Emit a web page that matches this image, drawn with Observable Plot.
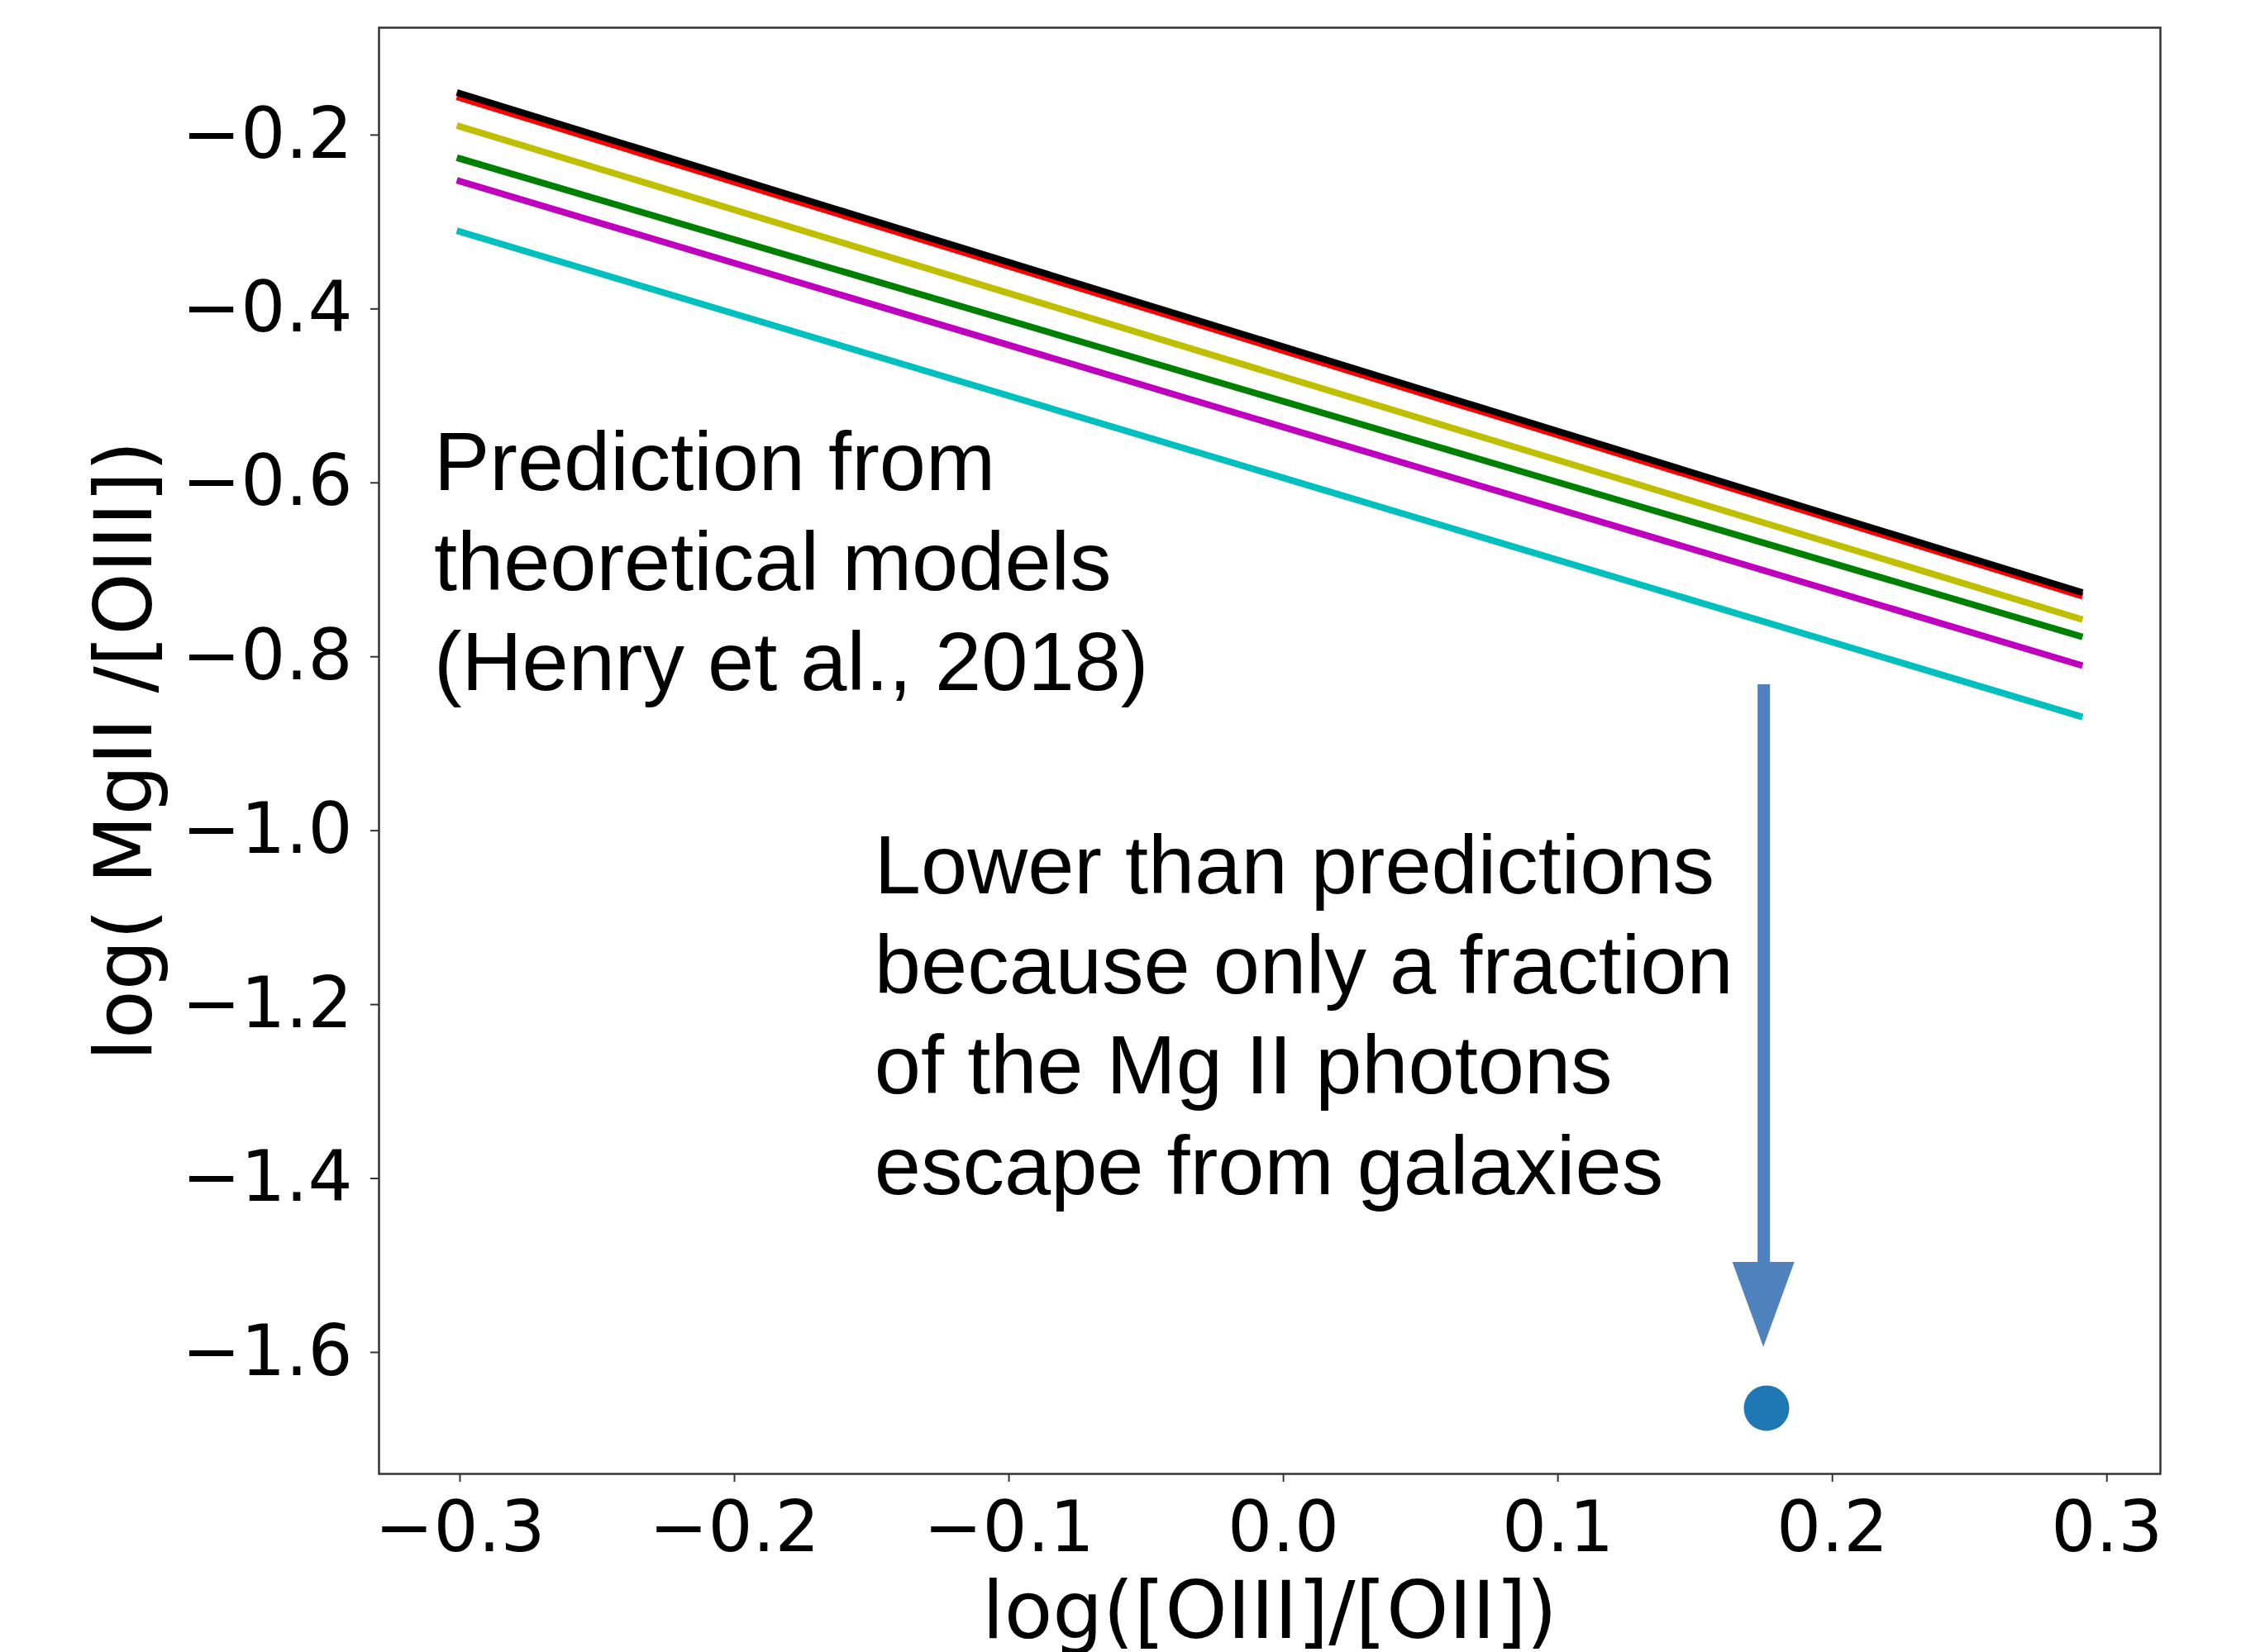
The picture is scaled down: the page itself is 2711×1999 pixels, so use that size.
<!DOCTYPE html>
<html>
<head>
<meta charset="utf-8">
<script src="https://cdn.jsdelivr.net/npm/d3@7"></script>
<script src="https://cdn.jsdelivr.net/npm/@observablehq/plot@0.6"></script>
<style>
  html, body { margin: 0; padding: 0; background: #fff; overflow: hidden; }
</style>
</head>
<body>
<div id="chart"></div>
<script>
// ---- data ----
const modelX = [-0.3, 0.29];                 // log([OIII]/[OII]) endpoints of model lines
const seriesNames  = ["cyan", "magenta", "green", "yellow", "red", "black"];
const seriesColors = ["#00bfbf", "#bf00bf", "#008000", "#bfbf00", "#ff0000", "#000000"];
const cyanY    = [-0.314, -0.871];
const magentaY = [-0.256, -0.812];
const greenY   = [-0.230, -0.779];
const yellowY  = [-0.193, -0.759];
const redY     = [-0.160, -0.732];
const blackY   = [-0.155, -0.728];
const seriesY  = [cyanY, magentaY, greenY, yellowY, redY, blackY];

const obsX = [0.176];     // observed galaxy
const obsY = [-1.667];

const xTicks = [-0.3, -0.2, -0.1, 0.0, 0.1, 0.2, 0.3];
const yTicks = [-0.2, -0.4, -0.6, -0.8, -1.0, -1.2, -1.4, -1.6];

const xLabel = "log([OIII]/[OII])";
const yLabel = "log( MgII /[OIII])";

const note1 = ["Prediction from", "theoretical models", "(Henry et al., 2018)"];
const note1Pos = [-0.3095, -0.8416];   // x, baseline of last line
const note2 = ["Lower than predictions", "because only a fraction", "of the Mg II photons", "escape from galaxies"];
const note2Pos = [-0.1490, -1.4205];

// arrow: x, shaft top, head base, tip, head half-width (x units)
const arrowX = 0.175, arrowTop = -0.835, arrowHeadBase = -1.4994, arrowTip = -1.597, arrowHalfW = 0.0113;

// ---- build tables ----
const lineRows = seriesNames.flatMap((name, i) =>
  modelX.map((x, j) => ({series: name, x, y: seriesY[i][j]})));
const obs = obsX.map((x, i) => ({x, y: obsY[i]}));
const arrowHead = [
  {y: arrowHeadBase, xa: arrowX - arrowHalfW, xb: arrowX + arrowHalfW},
  {y: arrowTip, xa: arrowX, xb: arrowX}
];

// matplotlib-style 5% margins around data extent
const allX = lineRows.map(d => d.x).concat(obsX);
const allY = lineRows.map(d => d.y).concat(obsY);
const [x0, x1] = d3.extent(allX), [y0, y1] = d3.extent(allY);
const xPad = (x1 - x0) * 0.05, yPad = (y1 - y0) * 0.05;

const W = 2711, H = 1999;
const fmt = d3.format(".1f");

const lineMarks = seriesNames.map((name, i) =>
  Plot.line(lineRows.filter(d => d.series === name), {
    x: "x", y: "y", stroke: seriesColors[i], strokeWidth: 8, strokeLinecap: "square"
  }));

const chart = Plot.plot({
  width: W,
  height: H,
  marginLeft: 458,
  marginRight: 98,
  marginTop: 33,
  marginBottom: 216,
  style: {fontFamily: "'DejaVu Sans', sans-serif", fontSize: "85px", background: "#fff", color: "#000"},
  x: {domain: [x0 - xPad, x1 + xPad]},
  y: {domain: [y0 - yPad, y1 + yPad]},
  marks: [
    ...lineMarks,
    Plot.dot(obs, {x: "x", y: "y", r: 27.5, fill: "#1f77b4", stroke: "none"}),
    Plot.ruleX([arrowX], {x: d => d, y1: arrowTop, y2: arrowHeadBase, stroke: "#4f81bd", strokeWidth: 15}),
    Plot.areaX(arrowHead, {y: "y", x1: "xa", x2: "xb", fill: "#4f81bd"}),
    Plot.text([note1.join("\n")], {
      x: note1Pos[0], y: note1Pos[1], text: d => d, textAnchor: "start", lineAnchor: "bottom",
      lineHeight: 1.2, fontSize: 101, fontFamily: "'Liberation Sans', Arial, sans-serif", fill: "#000"
    }),
    Plot.text([note2.join("\n")], {
      x: note2Pos[0], y: note2Pos[1], text: d => d, textAnchor: "start", lineAnchor: "bottom",
      lineHeight: 1.2, fontSize: 101, fontFamily: "'Liberation Sans', Arial, sans-serif", fill: "#000"
    }),
    Plot.frame({stroke: "#333", strokeWidth: 2.5}),
    Plot.axisX({ticks: xTicks, tickFormat: fmt, tickSize: 10, tickPadding: 23, strokeWidth: 2, stroke: "#333", label: null}),
    Plot.axisY({ticks: yTicks, tickFormat: fmt, tickSize: 10, tickPadding: 22, strokeWidth: 2, stroke: "#333", dy: 3, label: null}),
    Plot.text([xLabel], {frameAnchor: "bottom", text: d => d, textAnchor: "middle", lineAnchor: "bottom", dy: 198, fontSize: 96, fill: "#000"}),
    Plot.text([yLabel], {frameAnchor: "left", text: d => d, rotate: -90, textAnchor: "middle", lineAnchor: "bottom", dx: -276, fontSize: 96, fill: "#000"})
  ]
});
document.getElementById("chart").appendChild(chart);
</script>
</body>
</html>
